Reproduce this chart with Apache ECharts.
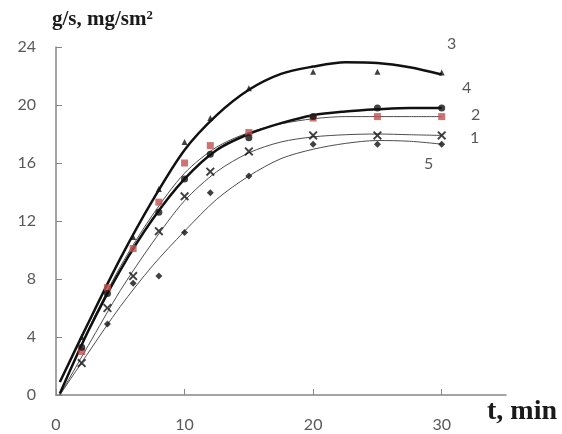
<!DOCTYPE html>
<html>
<head>
<meta charset="utf-8">
<script src="https://cdn.jsdelivr.net/npm/echarts@6/dist/echarts.min.js"></script>
<style>html,body{margin:0;padding:0;background:#fff}#c{width:562px;height:434px}</style>
</head>
<body>
<div id="c"></div>
<script>
// measured times (min)
var times = [2, 4, 6, 8, 10, 12, 15, 20, 25, 30];
// measured points per curve
var pts1 = [2.2, 6.0, 8.2, 11.3, 13.7, 15.4, 16.8, 17.9, 17.9, 17.9];
var pts2 = [3.0, 7.4, 10.1, 13.3, 16.0, 17.2, 18.1, 19.1, 19.2, 19.2];
var pts3 = [4.0, null, 10.9, 14.2, 17.45, 19.1, 21.15, 22.3, 22.3, 22.25];
var pts4 = [3.3, 7.0, null, 12.6, 14.9, 16.6, 17.75, 19.2, 19.8, 19.8];
var pts5 = [null, 4.9, 7.7, 8.2, 11.2, 13.95, 15.1, 17.3, 17.3, 17.3];
// trend curves
var curveT = [0.3, 2.5, 5, 7.5, 10, 12.5, 15, 17.5, 20, 22.5, 25, 27.5, 30];
var curve1 = [0, 3.4, 7.2, 10.5, 13.4, 15.4, 16.7, 17.45, 17.8, 17.95, 18.0, 17.95, 17.9];
var curve2 = [0.1, 4.5, 8.85, 12.4, 15.3, 17.1, 18.1, 18.7, 19.05, 19.2, 19.2, 19.2, 19.2];
var curve3 = [0.9, 4.95, 9.4, 13.4, 16.9, 19.3, 21.05, 22.15, 22.65, 22.95, 22.9, 22.6, 22.1];
var curve4 = [0.1, 4.4, 8.6, 12.1, 14.9, 16.9, 18.0, 18.75, 19.3, 19.55, 19.7, 19.8, 19.8];
var curve5 = [0, 2.9, 6.1, 8.9, 11.3, 13.5, 15.1, 16.3, 16.95, 17.35, 17.55, 17.5, 17.3];
var xTicks = [0, 10, 20, 30];
var curveNames = ['1', '2', '3', '4', '5'];

function pairs(xs, ys) {
  var out = [];
  for (var i = 0; i < xs.length; i++) if (ys[i] !== null) out.push([xs[i], ys[i]]);
  return out;
}
var xMark = 'path://M0,1.5L1.5,0L5,3.5L8.5,0L10,1.5L6.5,5L10,8.5L8.5,10L5,6.5L1.5,10L0,8.5L3.5,5Z';

function curveSeries(data, width, color) {
  return {type: 'line', data: pairs(curveT, data), smooth: 0.3, symbol: 'none', silent: true,
    lineStyle: {color: color, width: width}, z: 2};
}
function markSeries(data, symbol, size, color) {
  return {type: 'scatter', data: pairs(times, data), symbol: symbol, symbolSize: size,
    itemStyle: {color: color}, z: 5};
}
var chart = echarts.init(document.getElementById('c'), null, {renderer: 'canvas'});
var labelColor = '#595959';
chart.setOption({
  animation: false,
  backgroundColor: '#fff',
  grid: {left: 56, right: 56, top: 47, bottom: 39},
  xAxis: {
    type: 'value', min: 0, max: 35, interval: 10,
    axisLine: {lineStyle: {color: '#868686', width: 1.5}},
    axisTick: {inside: true, length: 6, customValues: xTicks, lineStyle: {color: '#868686'}},
    axisLabel: {customValues: xTicks, margin: 22, color: labelColor, fontFamily: 'Lato', fontSize: 16},
    splitLine: {show: false}
  },
  yAxis: {
    type: 'value', min: 0, max: 24, interval: 4,
    axisLine: {show: true, lineStyle: {color: '#868686', width: 1.5}},
    axisTick: {show: true, inside: true, length: 6, lineStyle: {color: '#868686'}},
    axisLabel: {margin: 20, color: labelColor, fontFamily: 'Lato', fontSize: 16},
    splitLine: {show: false}
  },
  series: [
    curveSeries(curve5, 1, '#4d4d4d'),
    curveSeries(curve1, 1, '#4d4d4d'),
    curveSeries(curve2, 1, '#4d4d4d'),
    curveSeries(curve4, 2.5, '#111'),
    curveSeries(curve3, 2.5, '#111'),
    markSeries(pts5, 'diamond', 7, '#111'),
    markSeries(pts1, xMark, 9, '#111'),
    markSeries(pts2, 'rect', 7, '#c0504d'),
    markSeries(pts4, 'circle', 7, '#111'),
    markSeries(pts3, 'triangle', 6, '#111')
  ],
  graphic: [
    {type: 'text', left: 52, top: 9, style: {text: 'g/s, mg/sm²', font: 'bold 21px "Liberation Serif"', fill: '#1a1a1a'}},
    {type: 'text', left: 487, top: 398, style: {text: 't, min', font: 'bold 28px "Liberation Serif"', fill: '#1a1a1a'}},
    {type: 'text', left: 447, top: 36, style: {text: curveNames[2], font: '16px Lato', fill: labelColor}},
    {type: 'text', left: 462, top: 80, style: {text: curveNames[3], font: '16px Lato', fill: labelColor}},
    {type: 'text', left: 471, top: 107, style: {text: curveNames[1], font: '16px Lato', fill: labelColor}},
    {type: 'text', left: 470, top: 130, style: {text: curveNames[0], font: '16px Lato', fill: labelColor}},
    {type: 'text', left: 424, top: 156, style: {text: curveNames[4], font: '16px Lato', fill: labelColor}}
  ]
});
</script>
</body>
</html>
